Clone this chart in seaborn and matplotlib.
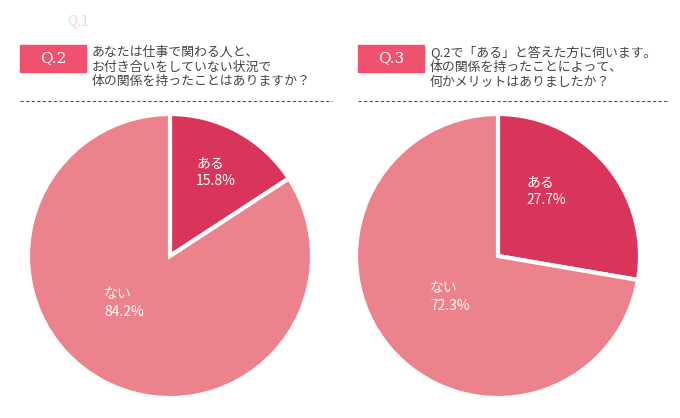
import matplotlib
matplotlib.use("Agg")
import matplotlib.pyplot as plt
import seaborn as sns
from matplotlib.patches import Rectangle
from matplotlib.lines import Line2D

sns.set_theme(style="white")
plt.rcParams["font.family"] = "Noto Sans CJK JP"

labels = ["ある", "ない"]
q2_values = [15.8, 84.2]
q3_values = [27.7, 72.3]
colors = ["#d93459", "#ec838c"]
q2_title = "Q.2"
q3_title = "Q.3"
q2_text = "あなたは仕事で関わる人と、\nお付き合いをしていない状況で\n体の関係を持ったことはありますか？"
q3_text = "Q.2で「ある」と答えた方に伺います。\n体の関係を持ったことによって、\n何かメリットはありましたか？"

W, H = 680, 418
fig = plt.figure(figsize=(W/100, H/100), dpi=100)
fig.patch.set_facecolor("white")

def pie(cx, vals):
    r = 142
    ax = fig.add_axes([(cx - r)/W, (H - 256 - r)/H, 2*r/W, 2*r/H])
    ax.pie(vals, colors=colors, startangle=90, counterclock=False,
           wedgeprops=dict(edgecolor="white", linewidth=3))
    ax.set_xlim(-1, 1); ax.set_ylim(-1, 1)
    ax.set_aspect("equal"); ax.axis("off")
    return ax

pie(170, q2_values)
pie(498, q3_values)

ov = fig.add_axes([0, 0, 1, 1])
ov.set_zorder(10)
ov.patch.set_alpha(0)
ov.set_xlim(0, W); ov.set_ylim(H, 0); ov.axis("off")

ov.text(78, 22, "Q.1", color="#f6d3d8", fontsize=10, ha="center", va="center")

def header(x0, title, text, dash_end):
    ov.add_patch(Rectangle((x0, 45), 66, 27, color="#f0516f"))
    ov.text(x0 + 33, 58.5, title, color="white", fontsize=11, ha="center", va="center",
            family="DejaVu Serif")
    ov.text(x0 + 72, 67, text, color="#444444", fontsize=9.3, ha="left", va="center",
            linespacing=1.15)
    ov.add_line(Line2D([x0, dash_end], [101, 101], color="#555555", lw=0.8, ls=(0, (3, 2))))

header(20, q2_title, q2_text, 332)
header(358, q3_title, q3_text, 668)

def lab(x, y, name, v):
    ov.text(x, y, f"{name}\n{v}%", color="white", fontsize=10, ha="left", va="center",
            linespacing=1.3)

lab(196, 172, labels[0], q2_values[0])
lab(104, 303, labels[1], q2_values[1])
lab(526, 191, labels[0], q3_values[0])
lab(430, 297, labels[1], q3_values[1])

fig.savefig("out.png", dpi=100, facecolor="white")
